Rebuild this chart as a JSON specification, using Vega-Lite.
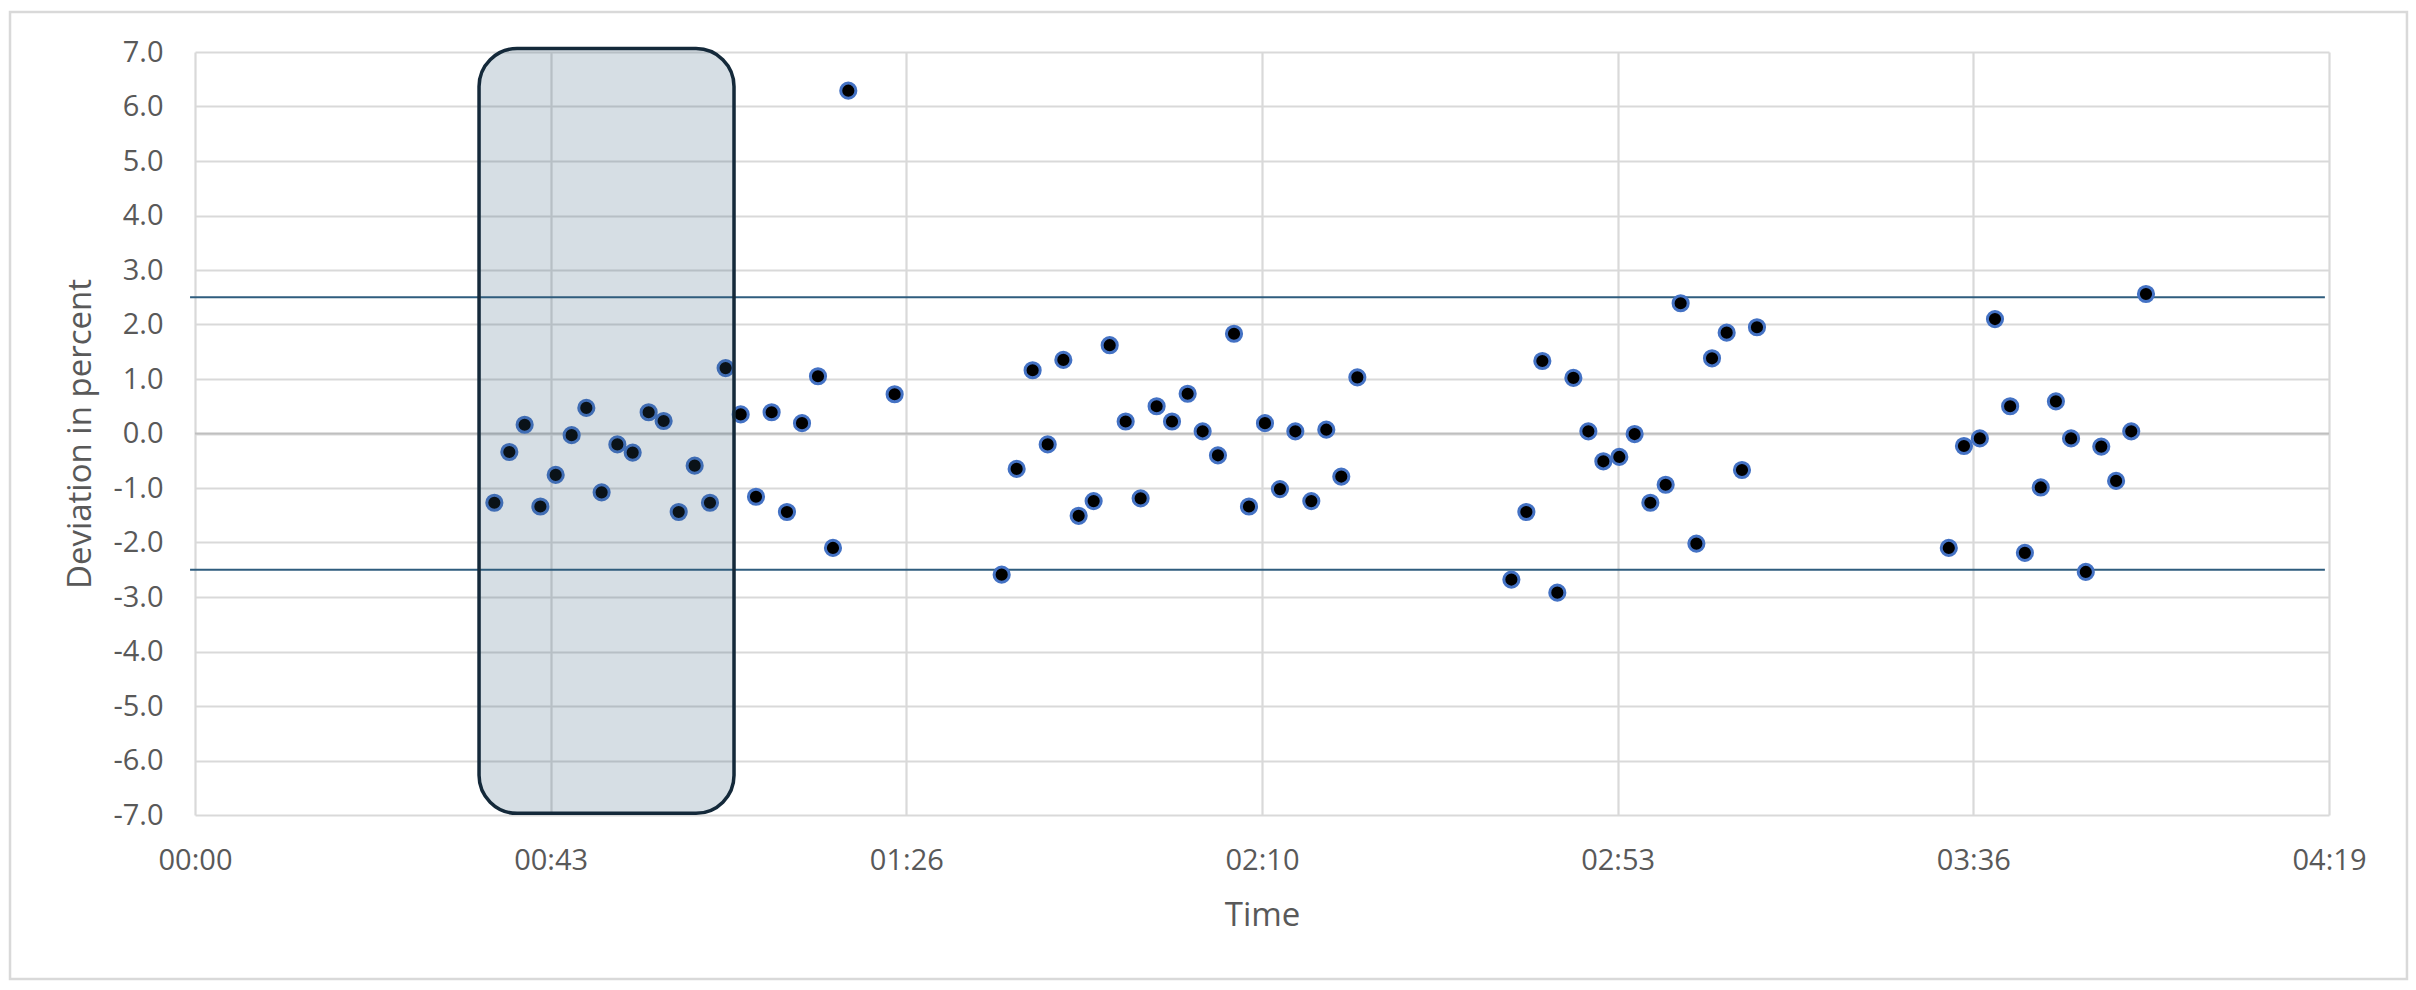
{
  "$schema": "https://vega.github.io/schema/vega-lite/v6.json",
  "width": 2134,
  "height": 763,
  "autosize": {"type": "none"},
  "padding": {"left": 195, "top": 52, "right": 87, "bottom": 175},
  "background": "white",
  "config": {"view": {"stroke": null}, "font": "Open Sans"},
  "datasets": {
    "points": [
      {"time": 36.36, "deviation": -1.27},
      {"time": 38.18, "deviation": -0.34},
      {"time": 40.04, "deviation": 0.16},
      {"time": 41.95, "deviation": -1.34},
      {"time": 43.81, "deviation": -0.76},
      {"time": 45.75, "deviation": -0.03},
      {"time": 47.53, "deviation": 0.47},
      {"time": 49.39, "deviation": -1.08},
      {"time": 51.30, "deviation": -0.20},
      {"time": 53.16, "deviation": -0.35},
      {"time": 55.10, "deviation": 0.39},
      {"time": 56.92, "deviation": 0.23},
      {"time": 58.75, "deviation": -1.44},
      {"time": 60.69, "deviation": -0.59},
      {"time": 62.55, "deviation": -1.27},
      {"time": 64.45, "deviation": 1.20},
      {"time": 66.28, "deviation": 0.35},
      {"time": 68.14, "deviation": -1.16},
      {"time": 70.04, "deviation": 0.39},
      {"time": 71.90, "deviation": -1.44},
      {"time": 73.73, "deviation": 0.19},
      {"time": 75.67, "deviation": 1.05},
      {"time": 77.49, "deviation": -2.10},
      {"time": 79.35, "deviation": 6.29},
      {"time": 84.98, "deviation": 0.72},
      {"time": 97.98, "deviation": -2.59},
      {"time": 99.80, "deviation": -0.65},
      {"time": 101.74, "deviation": 1.16},
      {"time": 103.57, "deviation": -0.20},
      {"time": 105.47, "deviation": 1.35},
      {"time": 107.33, "deviation": -1.51},
      {"time": 109.15, "deviation": -1.24},
      {"time": 111.10, "deviation": 1.62},
      {"time": 113.04, "deviation": 0.22},
      {"time": 114.86, "deviation": -1.19},
      {"time": 116.80, "deviation": 0.50},
      {"time": 118.67, "deviation": 0.22},
      {"time": 120.57, "deviation": 0.73},
      {"time": 122.39, "deviation": 0.04},
      {"time": 124.25, "deviation": -0.40},
      {"time": 126.20, "deviation": 1.83},
      {"time": 128.02, "deviation": -1.34},
      {"time": 129.96, "deviation": 0.19},
      {"time": 131.78, "deviation": -1.02},
      {"time": 133.65, "deviation": 0.04},
      {"time": 135.59, "deviation": -1.24},
      {"time": 137.41, "deviation": 0.07},
      {"time": 139.23, "deviation": -0.79},
      {"time": 141.18, "deviation": 1.03},
      {"time": 159.89, "deviation": -2.68},
      {"time": 161.71, "deviation": -1.44},
      {"time": 163.65, "deviation": 1.33},
      {"time": 165.47, "deviation": -2.92},
      {"time": 167.42, "deviation": 1.02},
      {"time": 169.24, "deviation": 0.04},
      {"time": 171.06, "deviation": -0.51},
      {"time": 173.00, "deviation": -0.43},
      {"time": 174.86, "deviation": -0.01},
      {"time": 176.77, "deviation": -1.27},
      {"time": 178.63, "deviation": -0.94},
      {"time": 180.45, "deviation": 2.39},
      {"time": 182.36, "deviation": -2.02},
      {"time": 184.26, "deviation": 1.38},
      {"time": 186.04, "deviation": 1.85},
      {"time": 187.90, "deviation": -0.67},
      {"time": 189.72, "deviation": 1.95},
      {"time": 213.02, "deviation": -2.10},
      {"time": 214.86, "deviation": -0.23},
      {"time": 216.79, "deviation": -0.09},
      {"time": 218.63, "deviation": 2.10},
      {"time": 220.47, "deviation": 0.50},
      {"time": 222.26, "deviation": -2.19},
      {"time": 224.19, "deviation": -0.99},
      {"time": 226.03, "deviation": 0.59},
      {"time": 227.87, "deviation": -0.09},
      {"time": 229.66, "deviation": -2.54},
      {"time": 231.54, "deviation": -0.24},
      {"time": 233.34, "deviation": -0.87},
      {"time": 235.18, "deviation": 0.04},
      {"time": 236.97, "deviation": 2.56}
    ],
    "band": [{"start": 34.5, "end": 65.47, "top": 7.064, "bottom": -6.97}],
    "limits": [
      {"from": -0.6, "to": 258.7, "limit": 2.5},
      {"from": -0.6, "to": 258.7, "limit": -2.5}
    ],
    "zero": [{"from": 0, "to": 259.2, "value": 0}],
    "frame": [{"left": -22.47, "right": 268.67, "top": 7.734, "bottom": -10.01}]
  },
  "layer": [
    {
      "data": {"name": "points"},
      "mark": {"type": "circle", "size": 0, "opacity": 0},
      "encoding": {
        "x": {
          "field": "time", "type": "quantitative", "title": "Time",
          "scale": {"domain": [0, 259.2], "nice": false, "zero": false},
          "axis": {
            "values": [0, 43.2, 86.4, 129.6, 172.8, 216, 259.2],
            "labelExpr": "utcFormat(round(datum.value) * 1000, '%M:%S')",
            "grid": true, "gridColor": "#D9D9D9", "gridWidth": 2.2,
            "domain": false, "ticks": false, "tickSize": 0,
            "labelPadding": 31, "labelFont": "Open Sans", "labelFontSize": 29, "labelColor": "#595959",
            "labelFlush": false, "labelOverlap": false,
            "titleFont": "Open Sans", "titleFontSize": 33, "titleFontWeight": "normal", "titleColor": "#595959",
            "titleBaseline": "alphabetic", "titleAlign": "center", "titleX": 1067, "titleY": 110
          }
        },
        "y": {
          "field": "deviation", "type": "quantitative", "title": "Deviation in percent",
          "scale": {"domain": [-7, 7], "nice": false, "zero": false},
          "axis": {
            "values": [-7, -6, -5, -4, -3, -2, -1, 0, 1, 2, 3, 4, 5, 6, 7],
            "labelExpr": "replace(format(datum.value, '.1f'), '\u2212', '-')",
            "grid": true, "gridColor": "#D9D9D9", "gridWidth": 2.2,
            "domain": false, "ticks": false, "tickSize": 0,
            "labelPadding": 32, "labelFont": "Open Sans", "labelFontSize": 29, "labelColor": "#595959",
            "labelFlush": false, "labelOverlap": false,
            "titleFont": "Open Sans", "titleFontSize": 33, "titleFontWeight": "normal", "titleColor": "#595959",
            "titleBaseline": "alphabetic", "titleAlign": "center", "titleAngle": -90, "titleX": -105, "titleY": 381.5
          }
        }
      }
    },
    {
      "data": {"name": "frame"},
      "mark": {"type": "rect", "fillOpacity": 0, "stroke": "#D9D9D9", "strokeWidth": 2.5},
      "encoding": {
        "x": {"field": "left", "type": "quantitative", "title": "Time"},
        "x2": {"field": "right"},
        "y": {"field": "top", "type": "quantitative", "title": "Deviation in percent"},
        "y2": {"field": "bottom"}
      }
    },
    {
      "data": {"name": "zero"},
      "mark": {"type": "rule", "color": "#BFBFBF", "strokeWidth": 2.2},
      "encoding": {
        "x": {"field": "from", "type": "quantitative", "title": "Time"},
        "x2": {"field": "to"},
        "y": {"field": "value", "type": "quantitative", "title": "Deviation in percent"}
      }
    },
    {
      "data": {"name": "limits"},
      "mark": {"type": "rule", "color": "#2F5D7E", "strokeWidth": 2.2},
      "encoding": {
        "x": {"field": "from", "type": "quantitative", "title": "Time"},
        "x2": {"field": "to"},
        "y": {"field": "limit", "type": "quantitative", "title": "Deviation in percent"}
      }
    },
    {
      "data": {"name": "points"},
      "mark": {"type": "circle", "size": 230, "fill": "#000000", "fillOpacity": 1, "stroke": "#4472C4", "strokeWidth": 3, "strokeOpacity": 1, "opacity": 1},
      "encoding": {
        "x": {"field": "time", "type": "quantitative", "title": "Time"},
        "y": {"field": "deviation", "type": "quantitative", "title": "Deviation in percent"}
      }
    },
    {
      "data": {"name": "band"},
      "mark": {"type": "rect", "cornerRadius": 38, "fill": "#325A78", "fillOpacity": 0.2, "stroke": "#14293A", "strokeWidth": 3.5, "strokeOpacity": 1},
      "encoding": {
        "x": {"field": "start", "type": "quantitative", "title": "Time"},
        "x2": {"field": "end"},
        "y": {"field": "top", "type": "quantitative", "title": "Deviation in percent"},
        "y2": {"field": "bottom"}
      }
    }
  ]
}
